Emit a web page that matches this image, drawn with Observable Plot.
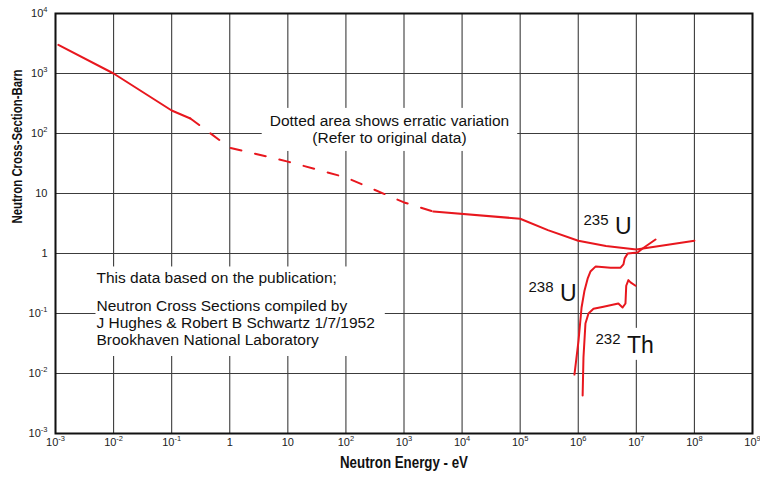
<!DOCTYPE html>
<html>
<head>
<meta charset="utf-8">
<script src="https://cdn.jsdelivr.net/npm/d3@7"></script>
<script src="https://cdn.jsdelivr.net/npm/@observablehq/plot@0.6"></script>
<style>
  html, body { margin: 0; padding: 0; background: #fff; }
  svg { display: block; }
</style>
</head>
<body>
<div id="chart"></div>
<script>
// ---- Data ----
const xTicks = [1e-3, 1e-2, 1e-1, 1, 10, 1e2, 1e3, 1e4, 1e5, 1e6, 1e7, 1e8, 1e9];
const xTickLabels = ["10^-3", "10^-2", "10^-1", "1", "10", "10^2", "10^3", "10^4", "10^5", "10^6", "10^7", "10^8", "10^9"];
const yTicks = [1e-3, 1e-2, 1e-1, 1, 10, 1e2, 1e3, 1e4];
const yTickLabels = ["10^-3", "10^-2", "10^-1", "1", "10", "10^2", "10^3", "10^4"];

// U-235, low-energy solid part
const u235LowE = [1.12e-3, 1e-2, 0.1, 0.21];
const u235LowS = [3000, 1000, 242, 178];
// U-235, dotted (erratic variation) part
const u235DotE = [0.21, 1, 10, 100, 1000, 3200];
const u235DotS = [178, 58, 34, 18.5, 7.1, 5.0];
// U-235, high-energy solid part
const u235HighE = [3200, 1e5, 3e5, 1e6, 3e6, 1e7, 1e8];
const u235HighS = [5.0, 3.8, 2.45, 1.63, 1.33, 1.17, 1.63];
// U-238
const u238E = [8.6e5, 1.01e6, 1.14e6, 1.28e6, 1.45e6, 1.62e6, 2.0e6, 3.6e6, 5.35e6, 6.0e6, 6.3e6, 7.1e6, 1.05e7, 1.28e7, 2.14e7];
const u238S = [0.0096, 0.035, 0.126, 0.24, 0.38, 0.5, 0.61, 0.58, 0.58, 0.66, 0.83, 1.0, 1.04, 1.21, 1.71];
// Th-232
const th232E = [1.19e6, 1.23e6, 1.33e6, 1.5e6, 1.83e6, 2.72e6, 4.9e6, 5.8e6, 6.5e6, 6.7e6, 7.3e6, 7.95e6, 9.7e6];
const th232S = [0.0043, 0.0185, 0.068, 0.1, 0.12, 0.13, 0.147, 0.126, 0.147, 0.29, 0.36, 0.33, 0.29];

const xTitle = "Neutron Energy - eV";
const yTitle = "Neutron Cross-Section-Barn";
const dottedNote = "Dotted area shows erratic variation\n(Refer to original data)";
const sourceLine1 = "This data based on the publication;";
const sourceLines = "Neutron Cross Sections compiled by\nJ Hughes & Robert B Schwartz 1/7/1952\nBrookhaven National Laboratory";

// ---- Build tables ----
const rows = (xs, ys) => xs.map((x, i) => ({e: x, s: ys[i]}));
const RED = "#e8171e";

const chart = Plot.plot({
  width: 760,
  height: 479,
  marginLeft: 55,
  marginRight: 8,
  marginTop: 13,
  marginBottom: 46,
  style: {fontFamily: "'Liberation Sans', Arial, sans-serif", background: "#fff", color: "#222"},
  x: {type: "log", domain: [1e-3, 1e9], label: null},
  y: {type: "log", domain: [1e-3, 1e4], label: null},
  marks: [
    Plot.gridX(xTicks, {stroke: "#3c3c3c", strokeOpacity: 1, strokeWidth: 1.1}),
    Plot.gridY(yTicks, {stroke: "#3c3c3c", strokeOpacity: 1, strokeWidth: 1.1}),
    Plot.axisX(xTicks, {tickFormat: d => xTickLabels[xTicks.indexOf(d)], tickSize: 0, tickPadding: 5, fontSize: 11, label: null}),
    Plot.axisY(yTicks, {tickFormat: d => yTickLabels[yTicks.indexOf(d)], tickSize: 0, tickPadding: 8, fontSize: 11, label: null}),
    // annotations
    Plot.text([dottedNote], {x: () => 562, y: () => 119, text: d => d, fontSize: 15.5, lineHeight: 1.1, textAnchor: "middle", fill: "#111", ariaDescription: "box-dotted"}),
    Plot.text([sourceLine1], {x: () => 5.08e-3, y: () => 0.383, text: d => d, fontSize: 15.5, textAnchor: "start", fill: "#111", ariaDescription: "box-source"}),
    Plot.text([sourceLines], {x: () => 5.08e-3, y: () => 0.0708, text: d => d, fontSize: 15.5, lineHeight: 1.1, textAnchor: "start", fill: "#111", ariaDescription: "box-source"}),
    Plot.text(["235|U"], {x: () => 1.23e6, y: () => 2.82, text: d => d, fontSize: 23, textAnchor: "start", fill: "#111", ariaDescription: "iso"}),
    Plot.text(["238|U"], {x: () => 1.39e5, y: () => 0.211, text: d => d, fontSize: 23, textAnchor: "start", fill: "#111", ariaDescription: "iso"}),
    Plot.text(["232|Th"], {x: () => 1.98e6, y: () => 0.0293, text: d => d, fontSize: 23, textAnchor: "start", fill: "#111", ariaDescription: "box-th"}),
    // curves
    Plot.line(rows(u235LowE, u235LowS), {x: "e", y: "s", stroke: RED, strokeWidth: 2}),
    Plot.line(rows(u235DotE, u235DotS), {x: "e", y: "s", stroke: RED, strokeWidth: 2, strokeDasharray: "11,14"}),
    Plot.line(rows(u235HighE, u235HighS), {x: "e", y: "s", stroke: RED, strokeWidth: 2}),
    Plot.line(rows(u238E, u238S), {x: "e", y: "s", stroke: RED, strokeWidth: 2}),
    Plot.line(rows(th232E, th232S), {x: "e", y: "s", stroke: RED, strokeWidth: 2}),
    // titles
    Plot.text([xTitle], {frameAnchor: "bottom", dy: 34, text: d => d, fontSize: 16.5, fontWeight: "bold", fill: "#111", ariaDescription: "xtitle"}),
    Plot.text([yTitle], {frameAnchor: "left", dx: -38, rotate: -90, text: d => d, fontSize: 15, fontWeight: "bold", fill: "#111", ariaDescription: "ytitle"}),
    Plot.frame({stroke: "#111", strokeWidth: 2})
  ]
});

document.getElementById("chart").appendChild(chart);

const NS = "http://www.w3.org/2000/svg";
const sel = d => `g[aria-description="${d}"]`;

// superscript tick labels
chart.querySelectorAll('g[aria-label="x-axis tick label"] text, g[aria-label="y-axis tick label"] text').forEach(t => {
  const m = t.textContent.match(/^10\^(-?\d+)$/);
  if (!m) return;
  t.textContent = "";
  const base = document.createElementNS(NS, "tspan");
  base.textContent = "10";
  const sup = document.createElementNS(NS, "tspan");
  sup.textContent = m[1];
  sup.setAttribute("font-size", "7.5");
  sup.setAttribute("dy", "-5");
  t.appendChild(base);
  t.appendChild(sup);
});

// isotope labels: superscript mass number + element symbol
chart.querySelectorAll(`${sel("iso")} text, ${sel("box-th")} text`).forEach(t => {
  const [num, el] = t.textContent.split("|");
  t.textContent = "";
  const a = document.createElementNS(NS, "tspan");
  a.textContent = num;
  a.setAttribute("font-size", "15");
  a.setAttribute("dy", "-9");
  const b = document.createElementNS(NS, "tspan");
  b.textContent = "\u00a0" + el;
  b.setAttribute("dy", "9");
  t.appendChild(a);
  t.appendChild(b);
});

// condensed axis titles
const xt = chart.querySelector(`${sel("xtitle")} text`);
if (xt) { xt.setAttribute("textLength", "128"); xt.setAttribute("lengthAdjust", "spacingAndGlyphs"); }
const yt = chart.querySelector(`${sel("ytitle")} text`);
if (yt) { yt.setAttribute("textLength", "154"); yt.setAttribute("lengthAdjust", "spacingAndGlyphs"); }

// white boxes behind annotation text
function boxBehind(label, pad) {
  const groups = chart.querySelectorAll(sel(label));
  if (!groups.length) return;
  let x0 = Infinity, y0 = Infinity, x1 = -Infinity, y1 = -Infinity;
  groups.forEach(g => g.querySelectorAll("text").forEach(t => {
    const b = t.getBBox();
    const m = t.getCTM();
    [[b.x, b.y], [b.x + b.width, b.y + b.height]].forEach(([px, py]) => {
      const p = chart.createSVGPoint(); p.x = px; p.y = py;
      const q = p.matrixTransform(m);
      x0 = Math.min(x0, q.x); y0 = Math.min(y0, q.y); x1 = Math.max(x1, q.x); y1 = Math.max(y1, q.y);
    });
  }));
  const r = document.createElementNS(NS, "rect");
  r.setAttribute("x", x0 - pad[3]);
  r.setAttribute("y", y0 - pad[0]);
  r.setAttribute("width", x1 - x0 + pad[1] + pad[3]);
  r.setAttribute("height", y1 - y0 + pad[0] + pad[2]);
  r.setAttribute("fill", "#fff");
  const first = groups[0];
  first.parentNode.insertBefore(r, first);
}
boxBehind("box-dotted", [4, 8, 5, 8]);
boxBehind("box-source", [3, 10, 8, 1]);
boxBehind("box-th", [2, 4, 2, 4]);
</script>
</body>
</html>
